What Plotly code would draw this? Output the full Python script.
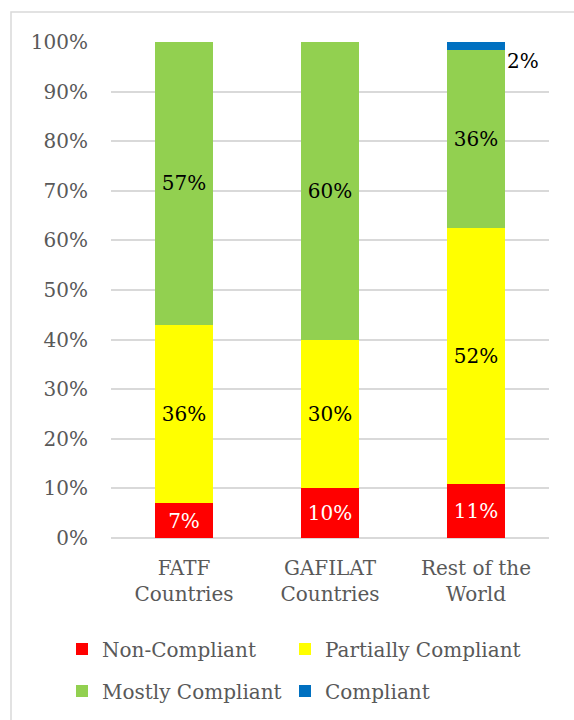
import plotly.graph_objects as go

categories = ["FATF<br>Countries", "GAFILAT<br>Countries", "Rest of the<br>World"]
non_compliant = [7, 10, 10.9]
partially_compliant = [36, 30, 51.6]
mostly_compliant = [57, 60, 35.9]
compliant = [0, 0, 1.6]

series = [
    ("Non-Compliant", non_compliant, "#ff0000", "white"),
    ("Partially Compliant", partially_compliant, "#ffff00", "black"),
    ("Mostly Compliant", mostly_compliant, "#92d050", "black"),
    ("Compliant", compliant, "#0070c0", "black"),
]

FONT = "DejaVu Serif"
FS = 20
GRAY = "#595959"
W, H = 574, 720
ML, MR, MT, MB = 111, 25, 42, 182

# legend slot positions (symbol left x, row centre y) in pixels
legend_slots = [(76, 649), (299, 649), (76, 691), (299, 691)]
legend_keys = ["legend", "legend2", "legend3", "legend4"]

fig = go.Figure()
for (name, vals, color, tcolor), lg in zip(series, legend_keys):
    show_text = name != "Compliant"
    fig.add_trace(go.Bar(
        x=categories, y=vals, name=name, marker_color=color,
        marker_line_width=0,
        text=[f"{v:.0f}%" if (show_text and v > 0) else "" for v in vals],
        textposition="inside", insidetextanchor="middle", textangle=0,
        insidetextfont=dict(family=FONT, size=FS, color=tcolor),
        constraintext="none",
        legend=lg, hoverinfo="skip",
    ))

# outside label for the small "Compliant" segment
for i, c in enumerate(categories):
    if compliant[i] > 0:
        total = non_compliant[i] + partially_compliant[i] + mostly_compliant[i] + compliant[i]
        fig.add_annotation(
            x=c, y=total, xref="x", yref="y",
            text=f"{compliant[i]:.0f}%", showarrow=False,
            xanchor="left", yanchor="top", xshift=29, yshift=-5,
            font=dict(family=FONT, size=FS, color="black"),
        )

pw = W - ML - MR
ph = H - MT - MB
# chart-area border
fig.add_shape(type="rect", xref="paper", yref="paper",
              x0=(11 - ML) / pw, x1=(W + 20 - ML) / pw,
              y0=-(H + 20 - MT - ph) / ph, y1=(H - MB - 12) / ph,
              line=dict(color="#d9d9d9", width=1.5), fillcolor="rgba(0,0,0,0)",
              layer="below")

legend_layout = {}
for lg, (sx, sy) in zip(legend_keys, legend_slots):
    legend_layout[lg] = dict(
        orientation="h", xref="container", yref="container",
        x=(sx - 14) / W, xanchor="left", y=1 - sy / H, yanchor="middle",
        font=dict(family=FONT, size=FS, color=GRAY),
        bgcolor="rgba(0,0,0,0)")

fig.update_layout(
    width=W, height=H,
    margin=dict(l=ML, r=MR, t=MT, b=MB),
    barmode="stack", bargap=0.6,
    plot_bgcolor="white", paper_bgcolor="white",
    font=dict(family=FONT, size=FS, color=GRAY),
    showlegend=True,
    xaxis=dict(type="category", showgrid=False, showline=False, zeroline=False,
               ticks="outside", ticklen=12, tickcolor="rgba(0,0,0,0)",
               tickfont=dict(family=FONT, size=FS, color=GRAY)),
    yaxis=dict(range=[0, 100], dtick=10, ticksuffix="%", showline=False,
               gridcolor="#d9d9d9", gridwidth=1.5, zeroline=True,
               zerolinecolor="#d9d9d9", zerolinewidth=1.5,
               ticks="outside", ticklen=18, tickcolor="rgba(0,0,0,0)",
               tickfont=dict(family=FONT, size=FS, color=GRAY)),
    **legend_layout,
)

fig.write_html("out.html")
